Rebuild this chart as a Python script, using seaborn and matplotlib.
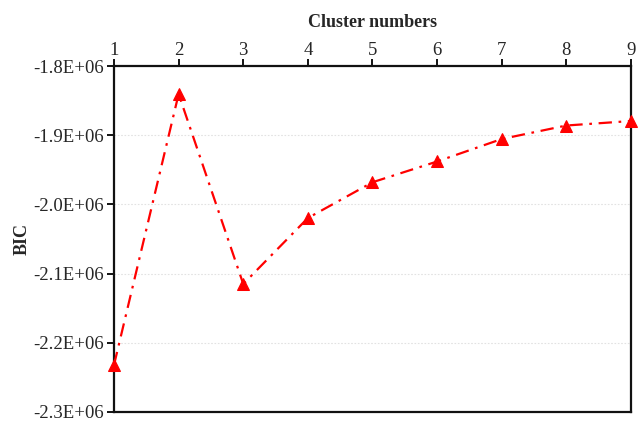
import matplotlib
matplotlib.use("Agg")
import matplotlib.pyplot as plt
import seaborn as sns
import pandas as pd
from matplotlib.ticker import FuncFormatter

cluster_numbers = [1, 2, 3, 4, 5, 6, 7, 8, 9]
bic_values = [-2.232e6, -1.8405e6, -2.115e6, -2.0197e6, -1.968e6,
              -1.938e6, -1.9055e6, -1.886e6, -1.8795e6]
y_ticks = [-2.3e6, -2.2e6, -2.1e6, -2.0e6, -1.9e6, -1.8e6]

df = pd.DataFrame({"k": cluster_numbers, "BIC": bic_values})

sns.set_style("white")
plt.rcParams["font.family"] = ["Liberation Serif", "DejaVu Serif"]

fig = plt.figure(figsize=(6.43, 4.22), dpi=100)
ax = fig.add_axes([0.1773, 0.0237, 0.804, 0.8199])

for yt in y_ticks[1:-1]:
    ax.axhline(yt, color="#e2e2e2", lw=0.8, ls=(0, (1.5, 1.5)), zorder=0)

sns.lineplot(data=df, x="k", y="BIC", ax=ax, color="red", lw=1.6,
             linestyle=(0, (6, 3, 1.2, 3)), marker="^", markersize=9,
             markeredgecolor="red", markerfacecolor="red", clip_on=False,
             zorder=5)

ax.set_xlim(1, 9)
ax.set_ylim(-2.3e6, -1.8e6)
ax.set_xticks(cluster_numbers)
ax.set_yticks(y_ticks)

def sci_label(v, pos):
    return f"{v/1e6:.1f}E+06"
ax.yaxis.set_major_formatter(FuncFormatter(sci_label))

ax.xaxis.tick_top()
ax.xaxis.set_label_position("top")
ax.tick_params(axis="x", which="both", top=True, bottom=False, direction="out",
               length=5, width=1.3, color="black", labelsize=13.5, pad=0)
ax.tick_params(axis="y", which="both", left=True, right=False, direction="out",
               length=5, width=1.3, color="black", labelsize=13.5, pad=2)

for side in ["top", "bottom", "left", "right"]:
    ax.spines[side].set_visible(True)
    ax.spines[side].set_color("#111111")
    ax.spines[side].set_linewidth(1.6)

ax.set_xlabel("Cluster numbers", fontsize=13, fontweight="bold", labelpad=11)
ax.set_ylabel("BIC", fontsize=13, fontweight="bold", labelpad=2)

fig.savefig("out.png", dpi=100)
